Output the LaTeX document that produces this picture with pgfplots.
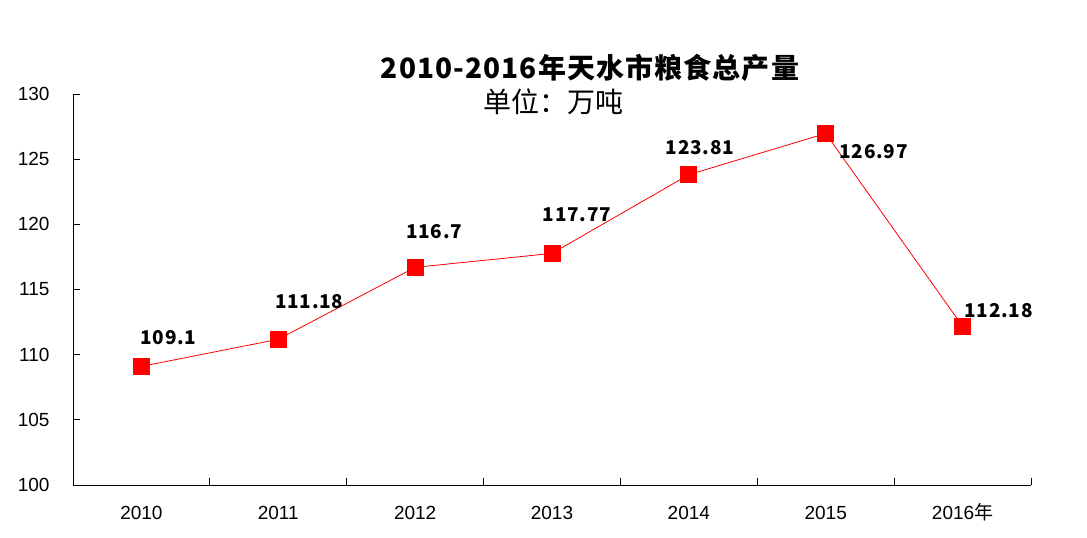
\documentclass[border=0pt]{standalone}
\usepackage{fontspec}
\setmainfont{Liberation Sans}
\newfontfamily\cjk{Noto Sans CJK SC}
\newfontfamily\cjkls{Noto Sans CJK SC}[LetterSpace=4]
\usepackage{pgfplots}
\usepackage{pgfplotstable}
\pgfplotsset{compat=1.18}
\pgfplotstableread{
x y lab dx dy
0 109.10 109.1 27 29
1 111.18 111.18 31 38
2 116.70 116.7 19 36
3 117.77 117.77 25 39
4 123.81 123.81 11 27
5 126.97 126.97 48 -18
6 112.18 112.18 36 16
}\grain
\begin{document}
\begin{tikzpicture}
\useasboundingbox (0,0) rectangle (1087pt,538pt);
\begin{axis}[at={(73pt,53pt)}, anchor=south west,
  width=958pt, height=391pt, scale only axis,
  xmin=-0.5, xmax=6.5, ymin=100, ymax=130,
  ytick={100,105,...,130},
  xtick={0,...,6},
  xticklabels={2010,2011,2012,2013,2014,2015,{2016{\cjk 年}}},
  minor xtick={-0.5,0.5,...,6.5},
  axis lines*=left,
  major x tick style={draw=none},
  tick style={black, line width=0.8pt},
  major tick length=7pt, minor tick length=7pt,
  axis line style={line width=0.8pt},
  ticklabel style={font=\fontsize{19}{21}\selectfont},
  /pgf/number format/assume math mode=true,
  yticklabel style={xshift=-20pt},
  xticklabel style={yshift=-15.5pt, text height=15pt, text depth=4pt},
  clip=false,
  nodes near coords, point meta=explicit symbolic,
  visualization depends on={\thisrow{dx}\as\dx},
  visualization depends on={\thisrow{dy}\as\dy},
  every node near coord/.append style={anchor=center, xshift={\dx*1pt}, yshift={\dy*1pt},
     font=\cjkls\bfseries\fontsize{19}{20}\selectfont, text=black},
]
\addplot[red, line width=0.8pt, mark=square*, mark size=8pt, mark options={fill=red, draw=red}]
  table[x=x, y=y, meta=lab] {\grain};
\end{axis}
\node[font=\cjkls\bfseries\fontsize{28}{30}\selectfont] at (590pt,470pt) {2010-2016年天水市粮食总产量};
\node[font=\cjk\fontsize{28}{30}\selectfont] at (553pt,436pt) {单位：万吨};
\end{tikzpicture}
\end{document}
